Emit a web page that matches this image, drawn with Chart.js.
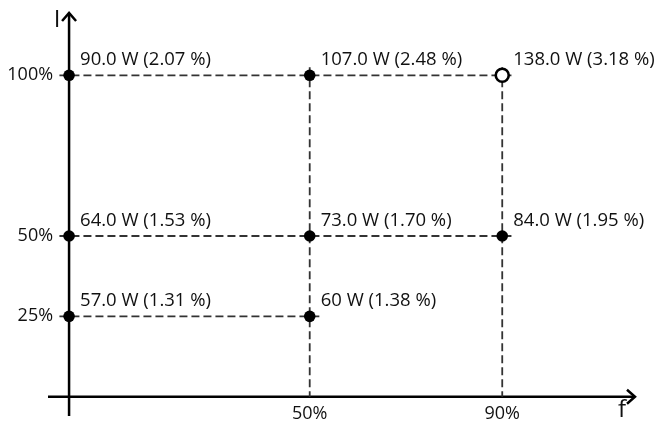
<!DOCTYPE html>
<html>
<head>
<meta charset="utf-8">
<script src="https://cdn.jsdelivr.net/npm/chart.js@4/dist/chart.umd.min.js"></script>
<style>
  html, body { margin: 0; padding: 0; background: #fff; }
  #wrap { width: 658px; height: 428px; }
</style>
</head>
<body>
<div id="wrap"><canvas id="opPoints"></canvas></div>
<script>
// operating points: f (%) , I (%) and the loss label at each
const fValues = [0, 50, 90, 0, 50, 90, 0, 50];
const iValues = [100, 100, 100, 50, 50, 50, 25, 25];
const lossLabels = [
  "90.0 W (2.07 %)", "107.0 W (2.48 %)", "138.0 W (3.18 %)",
  "64.0 W (1.53 %)", "73.0 W (1.70 %)", "84.0 W (1.95 %)",
  "57.0 W (1.31 %)", "60 W (1.38 %)"
];
const openMarker = [false, false, true, false, false, false, false, false];

const xTicks = [50, 90];
const yTicks = [100, 50, 25];

const FONT = '"Open Sans", sans-serif';
const OVER = 2; // dashed guide overshoot past a point, in % units

// --- dashed guide lines, built from the points ---
const guideSets = [];
yTicks.forEach((lvl) => {
  const fs = fValues.filter((f, i) => iValues[i] === lvl);
  guideSets.push([{ x: -OVER, y: lvl }, { x: Math.max(...fs) + OVER, y: lvl }]);
});
xTicks.forEach((lvl) => {
  const is = iValues.filter((v, i) => fValues[i] === lvl);
  guideSets.push([{ x: lvl, y: Math.max(...is) + OVER * 1.25 }, { x: lvl, y: 0 }]);
});

const pointData = fValues.map((f, i) => ({ x: f, y: iValues[i] }));

// --- axes with arrows, tick text, point labels ---
const axesPlugin = {
  id: "axesArrows",
  beforeDatasetsDraw(chart) {
    const { ctx, scales: { x, y }, chartArea: a } = chart;
    const x0 = x.getPixelForValue(0);
    const y0 = y.getPixelForValue(0);
    ctx.save();
    ctx.strokeStyle = "#000";
    ctx.lineWidth = 2.5;
    ctx.beginPath();
    ctx.moveTo(a.left + 3, y0);
    ctx.lineTo(a.right - 2, y0);
    ctx.moveTo(x0, a.bottom);
    ctx.lineTo(x0, a.top + 2);
    ctx.stroke();
    // arrow heads
    ctx.beginPath();
    ctx.moveTo(a.right - 10, y0 - 7);
    ctx.lineTo(a.right - 2, y0);
    ctx.lineTo(a.right - 10, y0 + 7);
    ctx.moveTo(x0 - 7, a.top + 10);
    ctx.lineTo(x0, a.top + 2);
    ctx.lineTo(x0 + 7, a.top + 10);
    ctx.stroke();

    ctx.fillStyle = "#111";
    ctx.font = "18px " + FONT;
    ctx.textBaseline = "middle";
    ctx.textAlign = "right";
    yTicks.forEach((t) => ctx.fillText(t + "%", x0 - 16, y.getPixelForValue(t)));
    ctx.textAlign = "center";
    xTicks.forEach((t) => ctx.fillText(t + "%", x.getPixelForValue(t), y0 + 17));

    ctx.font = "24px " + FONT;
    ctx.fillText("I", x0 - 12, a.top + 9);
    ctx.fillText("f", a.right - 15, y0 + 13);
    ctx.restore();
  },
  afterDatasetsDraw(chart) {
    const { ctx, scales: { x, y } } = chart;
    ctx.save();
    ctx.fillStyle = "#111";
    ctx.font = "18.5px " + FONT;
    ctx.textAlign = "left";
    ctx.textBaseline = "alphabetic";
    lossLabels.forEach((txt, i) => {
      ctx.fillText(txt, x.getPixelForValue(fValues[i]) + 11, y.getPixelForValue(iValues[i]) - 10);
    });
    ctx.restore();
  }
};

new Chart(document.getElementById("opPoints"), {
  type: "scatter",
  data: {
    datasets: [
      {
        data: pointData,
        order: 0,
        pointRadius: openMarker.map((o) => (o ? 6.5 : 5.8)),
        pointBackgroundColor: openMarker.map((o) => (o ? "#fff" : "#000")),
        pointBorderColor: "#000",
        pointBorderWidth: openMarker.map((o) => (o ? 2.6 : 0)),
      },
      ...guideSets.map((seg) => ({
        data: seg,
        order: 1,
        showLine: true,
        borderColor: "#333",
        borderWidth: 1.8,
        borderDash: [8, 4],
        pointRadius: 0,
      })),
    ],
  },
  options: {
    responsive: true,
    maintainAspectRatio: false,
    animation: false,
    layout: { padding: { left: 45, right: 21, top: 11, bottom: 12 } },
    plugins: { legend: { display: false }, tooltip: { enabled: false } },
    scales: {
      x: { type: "linear", min: -5, max: 118, display: false },
      y: { type: "linear", min: -6, max: 120, display: false },
    },
  },
  plugins: [axesPlugin],
});
</script>
</body>
</html>
